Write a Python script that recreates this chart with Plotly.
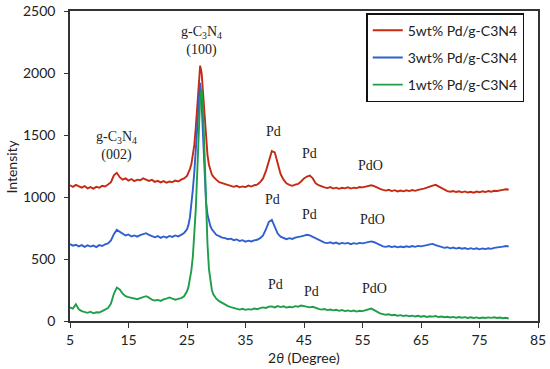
import plotly.graph_objects as go

two_theta = [5.0, 5.5, 6.0, 6.5, 7.0, 7.5, 8.0, 8.5, 9.0, 9.5, 10.0, 10.5, 11.0, 11.5,
             12.0, 12.5, 13.0, 13.5, 14.0, 14.5, 15.0, 15.5, 16.0, 16.5, 17.0, 17.5, 18.0, 18.5,
             19.0, 19.5, 20.0, 20.5, 21.0, 21.5, 22.0, 22.5, 23.0, 23.5, 24.0, 24.5, 25.0,
             25.25, 25.5, 25.75, 26.0, 26.25, 26.5, 26.75, 27.0, 27.25, 27.5, 27.75, 28.0,
             28.25, 28.5, 28.75, 29.0, 29.25, 29.5, 29.75, 30.0,
             30.5, 31.0, 31.5, 32.0, 32.5, 33.0, 33.5, 34.0, 34.5, 35.0, 35.5, 36.0, 36.5, 37.0,
             37.5, 38.0, 38.5, 39.0, 39.5, 40.0, 40.5, 41.0, 41.5, 42.0, 42.5, 43.0, 43.5, 44.0,
             44.5, 45.0, 45.5, 46.0, 46.5, 47.0, 47.5, 48.0, 48.5, 49.0, 49.5, 50.0, 50.5, 51.0,
             51.5, 52.0, 52.5, 53.0, 53.5, 54.0, 54.5, 55.0, 55.5, 56.0, 56.5, 57.0, 57.5, 58.0,
             58.5, 59.0, 59.5, 60.0, 60.5, 61.0, 61.5, 62.0, 62.5, 63.0, 63.5, 64.0, 64.5, 65.0,
             65.5, 66.0, 66.5, 67.0, 67.5, 68.0, 68.5, 69.0, 69.5, 70.0, 70.5, 71.0, 71.5, 72.0,
             72.5, 73.0, 73.5, 74.0, 74.5, 75.0, 75.5, 76.0, 76.5, 77.0, 77.5, 78.0, 78.5, 79.0,
             79.5, 80.0]

pd5 = [1095, 1082, 1098, 1085, 1076, 1088, 1070, 1080, 1068, 1082, 1075, 1090, 1085, 1100,
       1120, 1175, 1195, 1160, 1140, 1150, 1132, 1145, 1128, 1140, 1135, 1150, 1142, 1130,
       1138, 1122, 1130, 1118, 1128, 1115, 1125, 1120, 1132, 1125, 1140, 1150, 1170,
       1195, 1225, 1265, 1330, 1420, 1560, 1760, 1950, 2060, 2000, 1820, 1620,
       1460, 1340, 1260, 1210, 1180, 1165, 1150, 1140,
       1120, 1112, 1100, 1095, 1090, 1082, 1090, 1078, 1085, 1080, 1092, 1084, 1095, 1100,
       1120, 1150, 1210, 1290, 1370, 1360, 1270, 1185, 1140, 1110, 1098, 1090, 1100, 1105,
       1125, 1150, 1165, 1172, 1150, 1110, 1095, 1085, 1078, 1072, 1080, 1068, 1075, 1066,
       1074, 1070, 1078, 1068, 1075, 1072, 1080, 1078, 1085, 1090, 1095, 1088, 1075, 1065,
       1058, 1052, 1058, 1048, 1055, 1045, 1052, 1046, 1054, 1048, 1056, 1050, 1058, 1060,
       1068, 1075, 1085, 1092, 1098, 1085, 1068, 1055, 1048, 1042, 1048, 1040, 1046, 1038,
       1045, 1036, 1042, 1035, 1044, 1038, 1046, 1040, 1048, 1042, 1050, 1048, 1055, 1058,
       1062, 1060]

pd3 = [620, 608, 615, 602, 612, 598, 610, 600, 608, 596, 612, 605, 618, 625,
       650, 700, 735, 720, 705, 690, 698, 682, 690, 680, 692, 700, 708, 695,
       688, 675, 685, 670, 682, 672, 686, 678, 690, 682, 695, 710, 740,
       775, 835, 930, 1060, 1200, 1380, 1580, 1820, 1920, 1750, 1450, 1150,
       960, 860, 800, 765, 740, 722, 706, 695,
       685, 672, 668, 660, 664, 652, 658, 645, 652, 640, 648, 642, 650, 655,
       668, 690, 740, 800, 815, 760, 705, 680, 668, 660, 668, 662, 672, 675,
       682, 688, 695, 690, 678, 665, 650, 640, 632, 628, 635, 625, 632, 622,
       630, 624, 630, 620, 628, 622, 630, 626, 632, 638, 642, 635, 622, 610,
       602, 598, 604, 596, 602, 594, 600, 595, 603, 597, 604, 598, 606, 602,
       610, 612, 618, 622, 612, 604, 598, 590, 595, 586, 592, 584, 590, 583,
       588, 580, 587, 580, 586, 578, 585, 580, 586, 582, 590, 592, 598, 600,
       605, 602]

pd1 = [110, 100, 135, 95, 80, 72, 66, 75, 62, 70, 68, 80, 90, 105,
       140, 220, 270, 255, 220, 200, 192, 185, 180, 176, 185, 195, 200, 188,
       172, 165, 170, 162, 175, 180, 190, 180, 172, 178, 185, 200, 240,
       275, 330, 410, 520, 680, 900, 1200, 1550, 1800, 1870, 1700, 1350,
       950, 620, 420, 310, 250, 215, 195, 180,
       160, 145, 130, 120, 112, 104, 98, 92, 98, 90, 96, 92, 100, 95,
       104, 110, 105, 115, 118, 110, 120, 112, 118, 108, 115, 110, 120, 115,
       125, 122, 118, 110, 115, 105, 98, 92, 96, 88, 92, 86, 90, 82,
       88, 80, 85, 78, 84, 76, 82, 80, 86, 95, 100, 88, 72, 62,
       56, 50, 54, 46, 50, 42, 47, 40, 45, 38, 43, 36, 42, 35,
       40, 33, 38, 35, 40, 32, 36, 30, 34, 28, 33, 27, 32, 26,
       31, 25, 30, 24, 29, 23, 28, 24, 29, 25, 30, 24, 28, 22,
       26, 20]

series_names = ["5wt% Pd/g-C3N4", "3wt% Pd/g-C3N4", "1wt% Pd/g-C3N4"]
series_colors = ["#c42a14", "#2f5fd0", "#1f9e4a"]

x_ticks = [5, 15, 25, 35, 45, 55, 65, 75, 85]
y_ticks = [0, 500, 1000, 1500, 2000, 2500]

# peak labels: (x, y, text)
peak_x = [13.0, 27.5, 39.75, 46.0, 56.3, 39.6, 45.9, 56.7, 40.2, 46.3, 57.1]
peak_y = [1411, 2260, 1527, 1347, 1258, 976, 857, 820, 296, 237, 263]
peak_text = ["g-C<sub>3</sub>N<sub>4</sub><br>(002)", "g-C<sub>3</sub>N<sub>4</sub><br>(100)",
             "Pd", "Pd", "PdO", "Pd", "Pd", "PdO", "Pd", "Pd", "PdO"]

fig = go.Figure()
for i, (name, ys, col) in enumerate(zip(series_names, [pd5, pd3, pd1], series_colors)):
    fig.add_trace(go.Scatter(x=two_theta, y=ys, mode="lines", name=name,
                             legendgroup=f"g{i}",
                             line=dict(color=col, width=1.9)))

for px, py, t in zip(peak_x, peak_y, peak_text):
    fig.add_annotation(x=px, y=py, text=t, showarrow=False,
                       font=dict(family="Liberation Serif", size=14, color="#222"))

fig.add_annotation(xref="paper", yref="paper", x=-0.124, y=0.498, xanchor="center",
                   text="Intensity", textangle=-90, showarrow=False,
                   font=dict(family="Lato", size=14, color="#222"))
fig.add_annotation(xref="paper", yref="paper", x=0.5, y=-0.119, yanchor="middle",
                   text="2<i>θ</i> (Degree)", showarrow=False,
                   font=dict(family="Lato", size=14, color="#222"))

fig.update_layout(
    width=550, height=369,
    margin=dict(l=70, r=12, t=11, b=48, autoexpand=False),
    paper_bgcolor="white", plot_bgcolor="white",
    font=dict(family="Lato", size=14, color="#222"),
    showlegend=True,
    legend=dict(x=0.633, y=0.993, xanchor="left", yanchor="top",
                bordercolor="#111", borderwidth=1.5, bgcolor="white",
                font=dict(family="Lato", size=14), tracegroupgap=6),
)
fig.update_xaxes(range=[5, 85], tickvals=x_ticks, showline=True, linecolor="#333",
                 linewidth=1.5, mirror=True, ticks="outside", ticklen=5,
                 tickcolor="#333", showgrid=False, zeroline=False, automargin=False)
fig.update_yaxes(range=[0, 2500], tickvals=y_ticks, showline=True, linecolor="#333",
                 linewidth=1.5, mirror=True, ticks="outside", ticklen=4,
                 tickcolor="#333", showgrid=False, zeroline=False, automargin=False,
                 ticklabelstandoff=6)

fig.write_html("out.html", config={"displayModeBar": False},
               post_script="document.body.style.margin='0';")
